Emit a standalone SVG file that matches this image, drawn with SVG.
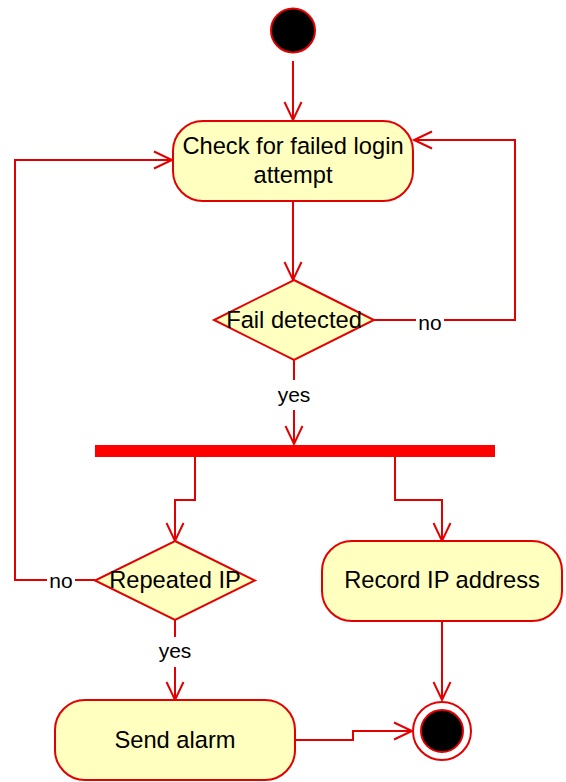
<svg xmlns="http://www.w3.org/2000/svg" width="566" height="782" viewBox="0 0 566 782">
<defs>
<marker id="arr" markerUnits="userSpaceOnUse" viewBox="-20 -10 22 20" refX="0" refY="0" markerWidth="22" markerHeight="20" orient="auto" overflow="visible">
<path d="M-18,-8.5 L0,0 L-18,8.5" fill="none" stroke="#e30000" stroke-width="2"/>
</marker>
<style>
.n{fill:#ffffc0;stroke:#e30000;stroke-width:2}
.c{fill:none;stroke:#e30000;stroke-width:2}
.t{font-family:"Liberation Sans",Arial,sans-serif;font-size:23.7px;fill:#000;text-anchor:middle}
.l{font-family:"Liberation Sans",Arial,sans-serif;font-size:21px;fill:#000;text-anchor:middle}
.bg{fill:#fff}
</style>
</defs>
<rect width="566" height="782" fill="#fff"/>
<g id="connectors">
<path class="c" d="M293,61 L293,120" marker-end="url(#arr)"/>
<path class="c" d="M293,201 L293,280" marker-end="url(#arr)"/>
<path class="c" d="M374,320 L515,320 L515,140 L414,140" marker-end="url(#arr)"/>
<path class="c" d="M294,360 L294,444" marker-end="url(#arr)"/>
<path class="c" d="M195,457 L195,500 L175,500 L175,541" marker-end="url(#arr)"/>
<path class="c" d="M395,457 L395,500 L442,500 L442,541" marker-end="url(#arr)"/>
<path class="c" d="M95,580 L15,580 L15,160 L172,160" marker-end="url(#arr)"/>
<path class="c" d="M175,620 L175,700" marker-end="url(#arr)"/>
<path class="c" d="M442,621 L442,700" marker-end="url(#arr)"/>
<path class="c" d="M295,740 L353,740 L353,731 L412,731" marker-end="url(#arr)"/>
<rect class="bg" x="416" y="310" width="28" height="24"/>
<text class="l" x="430" y="330">no</text>
<rect class="bg" x="276" y="380" width="36" height="30"/>
<text class="l" x="294" y="402">yes</text>
<rect class="bg" x="47" y="569" width="28" height="24"/>
<text class="l" x="61" y="588">no</text>
<rect class="bg" x="157" y="637" width="36" height="30"/>
<text class="l" x="175" y="658">yes</text>
</g>
<g id="start">
<circle cx="293" cy="30.5" r="22" fill="#000" stroke="#e30000" stroke-width="2"/>
</g>
<g id="check">
<rect class="n" x="173" y="121" width="240" height="80" rx="30" ry="30"/>
<text class="t" x="293" y="154">Check for failed login</text>
<text class="t" x="293" y="183">attempt</text>
</g>
<g id="fail">
<path class="n" d="M294,280 L374,320 L294,360 L214,320 Z"/>
<text class="t" x="294" y="328">Fail detected</text>
</g>
<g id="fork">
<rect x="95" y="445" width="400" height="12" fill="#ff0000"/>
</g>
<g id="repeated">
<path class="n" d="M175,541 L255,580.5 L175,620 L95,580.5 Z"/>
<text class="t" x="175" y="588">Repeated IP</text>
</g>
<g id="record">
<rect class="n" x="322" y="541" width="240" height="80" rx="30" ry="30"/>
<text class="t" x="442" y="588">Record IP address</text>
</g>
<g id="alarm">
<rect class="n" x="55" y="700" width="240" height="80" rx="30" ry="30"/>
<text class="t" x="175" y="748">Send alarm</text>
</g>
<g id="end">
<circle cx="442" cy="731" r="29" fill="#fff" stroke="#e30000" stroke-width="2"/>
<circle cx="442" cy="731" r="21" fill="#000" stroke="#e30000" stroke-width="2"/>
</g>
</svg>
